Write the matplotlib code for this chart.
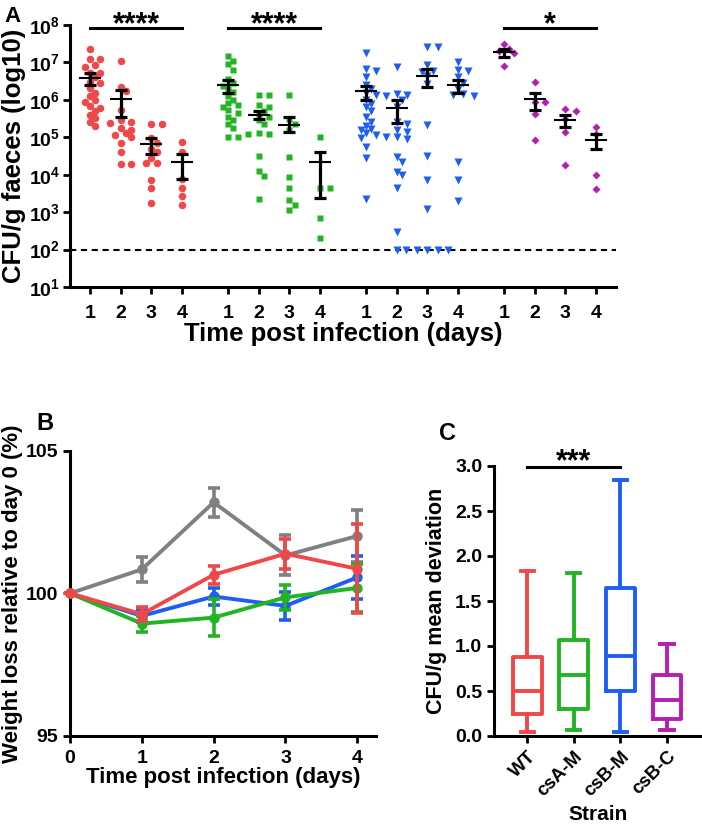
import matplotlib
matplotlib.use('Agg')
import matplotlib.pyplot as plt
import numpy as np

plt.rcParams['font.family'] = 'Liberation Sans'
plt.rcParams['font.weight'] = 'bold'
plt.rcParams['axes.labelweight'] = 'bold'
plt.rcParams['mathtext.fontset'] = 'custom'
plt.rcParams['mathtext.rm'] = 'Liberation Sans:bold'
plt.rcParams['mathtext.bf'] = 'Liberation Sans:bold'
plt.rcParams['mathtext.default'] = 'bf'

RED = '#F04848'
GREEN = '#22B422'
BLUE = '#1F5FEF'
PURPLE = '#B41EB4'
GRAY = '#808080'

days = [1, 2, 3, 4]
strains = ['WT', 'csA-M', 'csB-M', 'csB-C']

# Panel A: log10 CFU/g faeces per mouse, one list per day
wt_cfu = [
    [7.35, 7.08, 7.08, 6.93, 6.89, 6.73, 6.71, 6.60, 6.49, 6.44, 6.31, 6.19, 6.09, 6.00, 5.95, 5.84, 5.78, 5.69, 5.60, 5.51, 5.42, 5.30],
    [7.04, 6.35, 6.25, 5.72, 5.45, 5.42, 5.38, 5.25, 5.20, 5.12, 5.05, 5.00, 4.85, 4.62, 4.28, 4.28],
    [5.36, 5.36, 4.98, 4.85, 4.70, 4.62, 4.45, 4.30, 4.30, 3.85, 3.65, 3.25],
    [4.88, 4.60, 3.88, 3.65, 3.43, 3.20],
]
csa_cfu = [
    [7.18, 7.05, 6.95, 6.80, 6.55, 6.45, 6.38, 6.28, 6.20, 6.10, 6.00, 5.92, 5.85, 5.80, 5.72, 5.65, 5.55, 5.45, 5.35, 5.25, 5.00, 5.00],
    [6.12, 6.12, 5.85, 5.82, 5.70, 5.62, 5.55, 5.45, 5.35, 5.12, 5.10, 5.10, 4.50, 4.10, 3.97, 3.36],
    [6.13, 5.50, 5.35, 5.20, 4.48, 3.95, 3.64, 3.33, 3.20, 3.06],
    [5.00, 3.65, 3.65, 2.85, 2.30],
]
csb_cfu = [
    [7.26, 6.82, 6.78, 6.60, 6.40, 6.28, 6.18, 6.12, 6.00, 5.90, 5.82, 5.70, 5.55, 5.40, 5.30, 5.22, 5.20, 5.12, 5.05, 4.98, 4.75, 4.45, 3.35],
    [6.89, 6.15, 6.12, 6.10, 6.00, 5.80, 5.40, 5.35, 5.20, 5.15, 5.00, 5.00, 4.95, 4.48, 4.35, 4.08, 4.00, 3.65, 2.48, 2.00],
    [7.40, 7.40, 6.93, 6.78, 6.75, 6.65, 6.42, 5.33, 4.49, 3.86, 3.08, 2.00, 2.00, 2.00, 2.00, 2.00],
    [7.02, 6.80, 6.78, 6.60, 6.45, 6.30, 6.15, 6.12, 6.10, 4.35, 3.86, 3.30],
]
csbc_cfu = [
    [7.48, 7.36, 7.30, 7.25, 6.90],
    [6.47, 5.95, 5.95, 5.62, 4.93],
    [5.75, 5.70, 5.50, 5.13, 4.25],
    [5.27, 5.08, 4.00, 3.61],
]

# mean and SEM limits (log10)
wt_mean = [6.59, 6.02, 4.81, 4.33]
wt_hi = [6.73, 6.27, 4.99, 4.55]
wt_lo = [6.40, 5.55, 4.56, 3.89]
csa_mean = [6.40, 5.60, 5.33, 4.33]
csa_hi = [6.53, 5.71, 5.55, 4.62]
csa_lo = [6.18, 5.48, 5.14, 3.39]
csb_mean = [6.25, 5.79, 6.64, 6.40]
csb_hi = [6.38, 6.00, 6.82, 6.53]
csb_lo = [6.00, 5.39, 6.35, 6.18]
csbc_mean = [7.29, 6.02, 5.46, 4.93]
csbc_hi = [7.36, 6.19, 5.60, 5.08]
csbc_lo = [7.15, 5.73, 5.27, 4.68]

detection_limit = 100
sig_a = ['****', '****', None, '*']

# Panel B: weight relative to day 0 (%)
wl_days = [0, 1, 2, 3, 4]
ctrl_w = [100, 100.84, 103.19, 101.33, 102.01]
ctrl_sem = [0, 0.45, 0.50, 0.70, 0.90]
wt_w = [100, 99.27, 100.65, 101.39, 100.86]
wt_sem = [0, 0.24, 0.31, 0.53, 1.56]
csb_w = [100, 99.21, 99.89, 99.56, 100.56]
csb_sem = [0, 0.22, 0.29, 0.49, 0.75]
csa_w = [100, 98.94, 99.15, 99.86, 100.19]
csa_sem = [0, 0.28, 0.64, 0.45, 0.85]

# Panel C: box plot summary (min, q1, median, q3, max)
box_min = [0.05, 0.07, 0.05, 0.07]
box_q1 = [0.24, 0.30, 0.50, 0.19]
box_med = [0.50, 0.68, 0.89, 0.40]
box_q3 = [0.88, 1.07, 1.65, 0.68]
box_max = [1.83, 1.81, 2.85, 1.02]


def swarm(vals, step, xpx, ypx, dmin):
    placed, offs = [], []
    for v in vals:
        for k in [0, 1, -1, 2, -2, 3, -3, 4, -4, 5, -5]:
            o = k * step
            if all(((o - po) * xpx) ** 2 + ((v - pv) * ypx) ** 2 >= dmin ** 2 for po, pv in placed):
                break
        placed.append((o, v))
        offs.append(o)
    return np.array(offs)


fig = plt.figure(figsize=(7.02, 8.27), dpi=100)
W, H = 702, 827

# ---------------- Panel A ----------------
axA = fig.add_axes([70 / W, 1 - 287 / H, 546 / W, 262 / H])
groups = [
    (wt_cfu, wt_mean, wt_hi, wt_lo, RED, 'o', 5.4),
    (csa_cfu, csa_mean, csa_hi, csa_lo, GREEN, 's', 5.0),
    (csb_cfu, csb_mean, csb_hi, csb_lo, BLUE, 'v', 5.4),
    (csbc_cfu, csbc_mean, csbc_hi, csbc_lo, PURPLE, 'D', 3.8),
]
xticks, xlabels = [], []
for g, (cfu, mean, hi, lo, col, mk, ms) in enumerate(groups):
    for i, d in enumerate(days):
        xc = g * 4.5 + i
        xticks.append(xc)
        xlabels.append(str(d))
        vals = np.array(cfu[i])
        offs = swarm(vals, 0.17, 30.7, 37.4, 6.0)
        axA.plot(xc + offs, 10 ** vals, ls='none', marker=mk, ms=ms, color=col,
                 mec='none', zorder=2, clip_on=False)
        m = 10 ** mean[i]
        axA.errorbar([xc], [m], yerr=[[m - 10 ** lo[i]], [10 ** hi[i] - m]], fmt='none',
                     ecolor='black', elinewidth=2.3, capsize=4.2, capthick=2.3, zorder=3)
        axA.hlines(m, xc - 0.36, xc + 0.36, color='black', lw=1.5, zorder=3)
    if sig_a[g]:
        x0, x1 = g * 4.5, g * 4.5 + 3
        axA.plot([x0, x1], [10 ** 7.92, 10 ** 7.92], color='black', lw=2.2, clip_on=False)
        axA.text((x0 + x1) / 2, 10 ** 7.78, sig_a[g], ha='center', va='baseline',
                 fontsize=22, fontweight='bold')

axA.axhline(detection_limit, color='black', lw=1.5, ls=(0, (3, 2.2)), zorder=1)
axA.set_yscale('log')
axA.set_ylim(10, 1e8)
axA.set_xlim(-0.65, 17.15)
axA.set_yticks([10 ** k for k in range(1, 9)])
axA.set_yticklabels([r'$10^{%d}$' % k for k in range(1, 9)])
axA.yaxis.set_minor_locator(matplotlib.ticker.NullLocator())
axA.set_xticks(xticks)
axA.set_xticklabels(xlabels)
axA.tick_params(axis='both', width=2, length=5, labelsize=14)
axA.tick_params(axis='x', pad=8)
axA.tick_params(axis='y', labelsize=14, pad=2)
for s in ['top', 'right']:
    axA.spines[s].set_visible(False)
for s in ['left', 'bottom']:
    axA.spines[s].set_linewidth(2.2)
axA.set_ylabel('CFU/g faeces (log10)', fontsize=18.5)
axA.yaxis.set_label_coords(-0.08, 0.5)
axA.set_xlabel('Time post infection (days)', fontsize=18.5, labelpad=0)

# ---------------- Panel B ----------------
axB = fig.add_axes([70 / W, 1 - 736 / H, 306 / W, 285.3 / H])
series_b = [
    (ctrl_w, ctrl_sem, GRAY, 1),
    (csb_w, csb_sem, BLUE, 2),
    (csa_w, csa_sem, GREEN, 3),
    (wt_w, wt_sem, RED, 4),
]
for w, sem, col, z in series_b:
    axB.errorbar(wl_days, w, yerr=sem, color=col, lw=2.8, marker='o', ms=6.5,
                 elinewidth=2.6, capsize=4.6, capthick=2.6, zorder=z, clip_on=False)
axB.set_xlim(0, 4.26)
axB.set_ylim(95, 105)
axB.set_xticks(wl_days)
axB.set_yticks([95, 100, 105])
axB.tick_params(axis='both', width=2, length=5, labelsize=14)
axB.tick_params(axis='x', pad=5)
for s in ['top', 'right']:
    axB.spines[s].set_visible(False)
for s in ['left', 'bottom']:
    axB.spines[s].set_linewidth(2.2)
axB.set_ylabel('Weight loss relative to day 0 (%)', fontsize=16, labelpad=2)
axB.set_xlabel('Time post infection (days)', fontsize=16, labelpad=0)

# ---------------- Panel C ----------------
axC = fig.add_axes([494 / W, 1 - 736 / H, 208 / W, 270 / H])
colors_c = [RED, GREEN, BLUE, PURPLE]
stats = []
for i, s in enumerate(strains):
    stats.append({'label': s, 'whislo': box_min[i], 'q1': box_q1[i], 'med': box_med[i],
                  'q3': box_q3[i], 'whishi': box_max[i], 'fliers': []})
bp = axC.bxp(stats, positions=range(4), widths=0.62, capwidths=0.28, showfliers=False)
for i, col in enumerate(colors_c):
    bp['boxes'][i].set(color=col, lw=2.8)
    bp['medians'][i].set(color=col, lw=2.8)
    for art in bp['whiskers'][2 * i:2 * i + 2] + bp['caps'][2 * i:2 * i + 2]:
        art.set(color=col, lw=2.8)
for art in bp['caps']:
    art.set_clip_on(False)
axC.set_xlim(-0.71, 3.75)
axC.set_ylim(0, 3.0)
axC.set_yticks(np.arange(0, 3.01, 0.5))
axC.set_yticklabels(['%.1f' % v for v in np.arange(0, 3.01, 0.5)])
axC.set_xticks(range(4))
axC.set_xticklabels(strains, rotation=45, ha='right', rotation_mode='anchor')
axC.tick_params(axis='both', width=2, length=5, labelsize=14)
axC.tick_params(axis='x', labelsize=13.5)
for s in ['top', 'right']:
    axC.spines[s].set_visible(False)
for s in ['left', 'bottom']:
    axC.spines[s].set_linewidth(2.2)
axC.plot([0, 2], [2.99, 2.99], color='black', lw=2.2, clip_on=False)
axC.text(1, 2.95, '***', ha='center', va='baseline', fontsize=22, fontweight='bold')
axC.set_ylabel('CFU/g mean deviation', fontsize=15.5, labelpad=6)
axC.set_xlabel('Strain', fontsize=15, labelpad=4)

# panel letters
fig.text(4 / W, 1 - 22 / H, 'A', fontsize=16, fontweight='bold')
fig.text(36 / W, 1 - 430 / H, 'B', fontsize=17, fontweight='bold')
fig.text(439 / W, 1 - 440 / H, 'C', fontsize=17, fontweight='bold')

fig.savefig('out.png', dpi=100)
